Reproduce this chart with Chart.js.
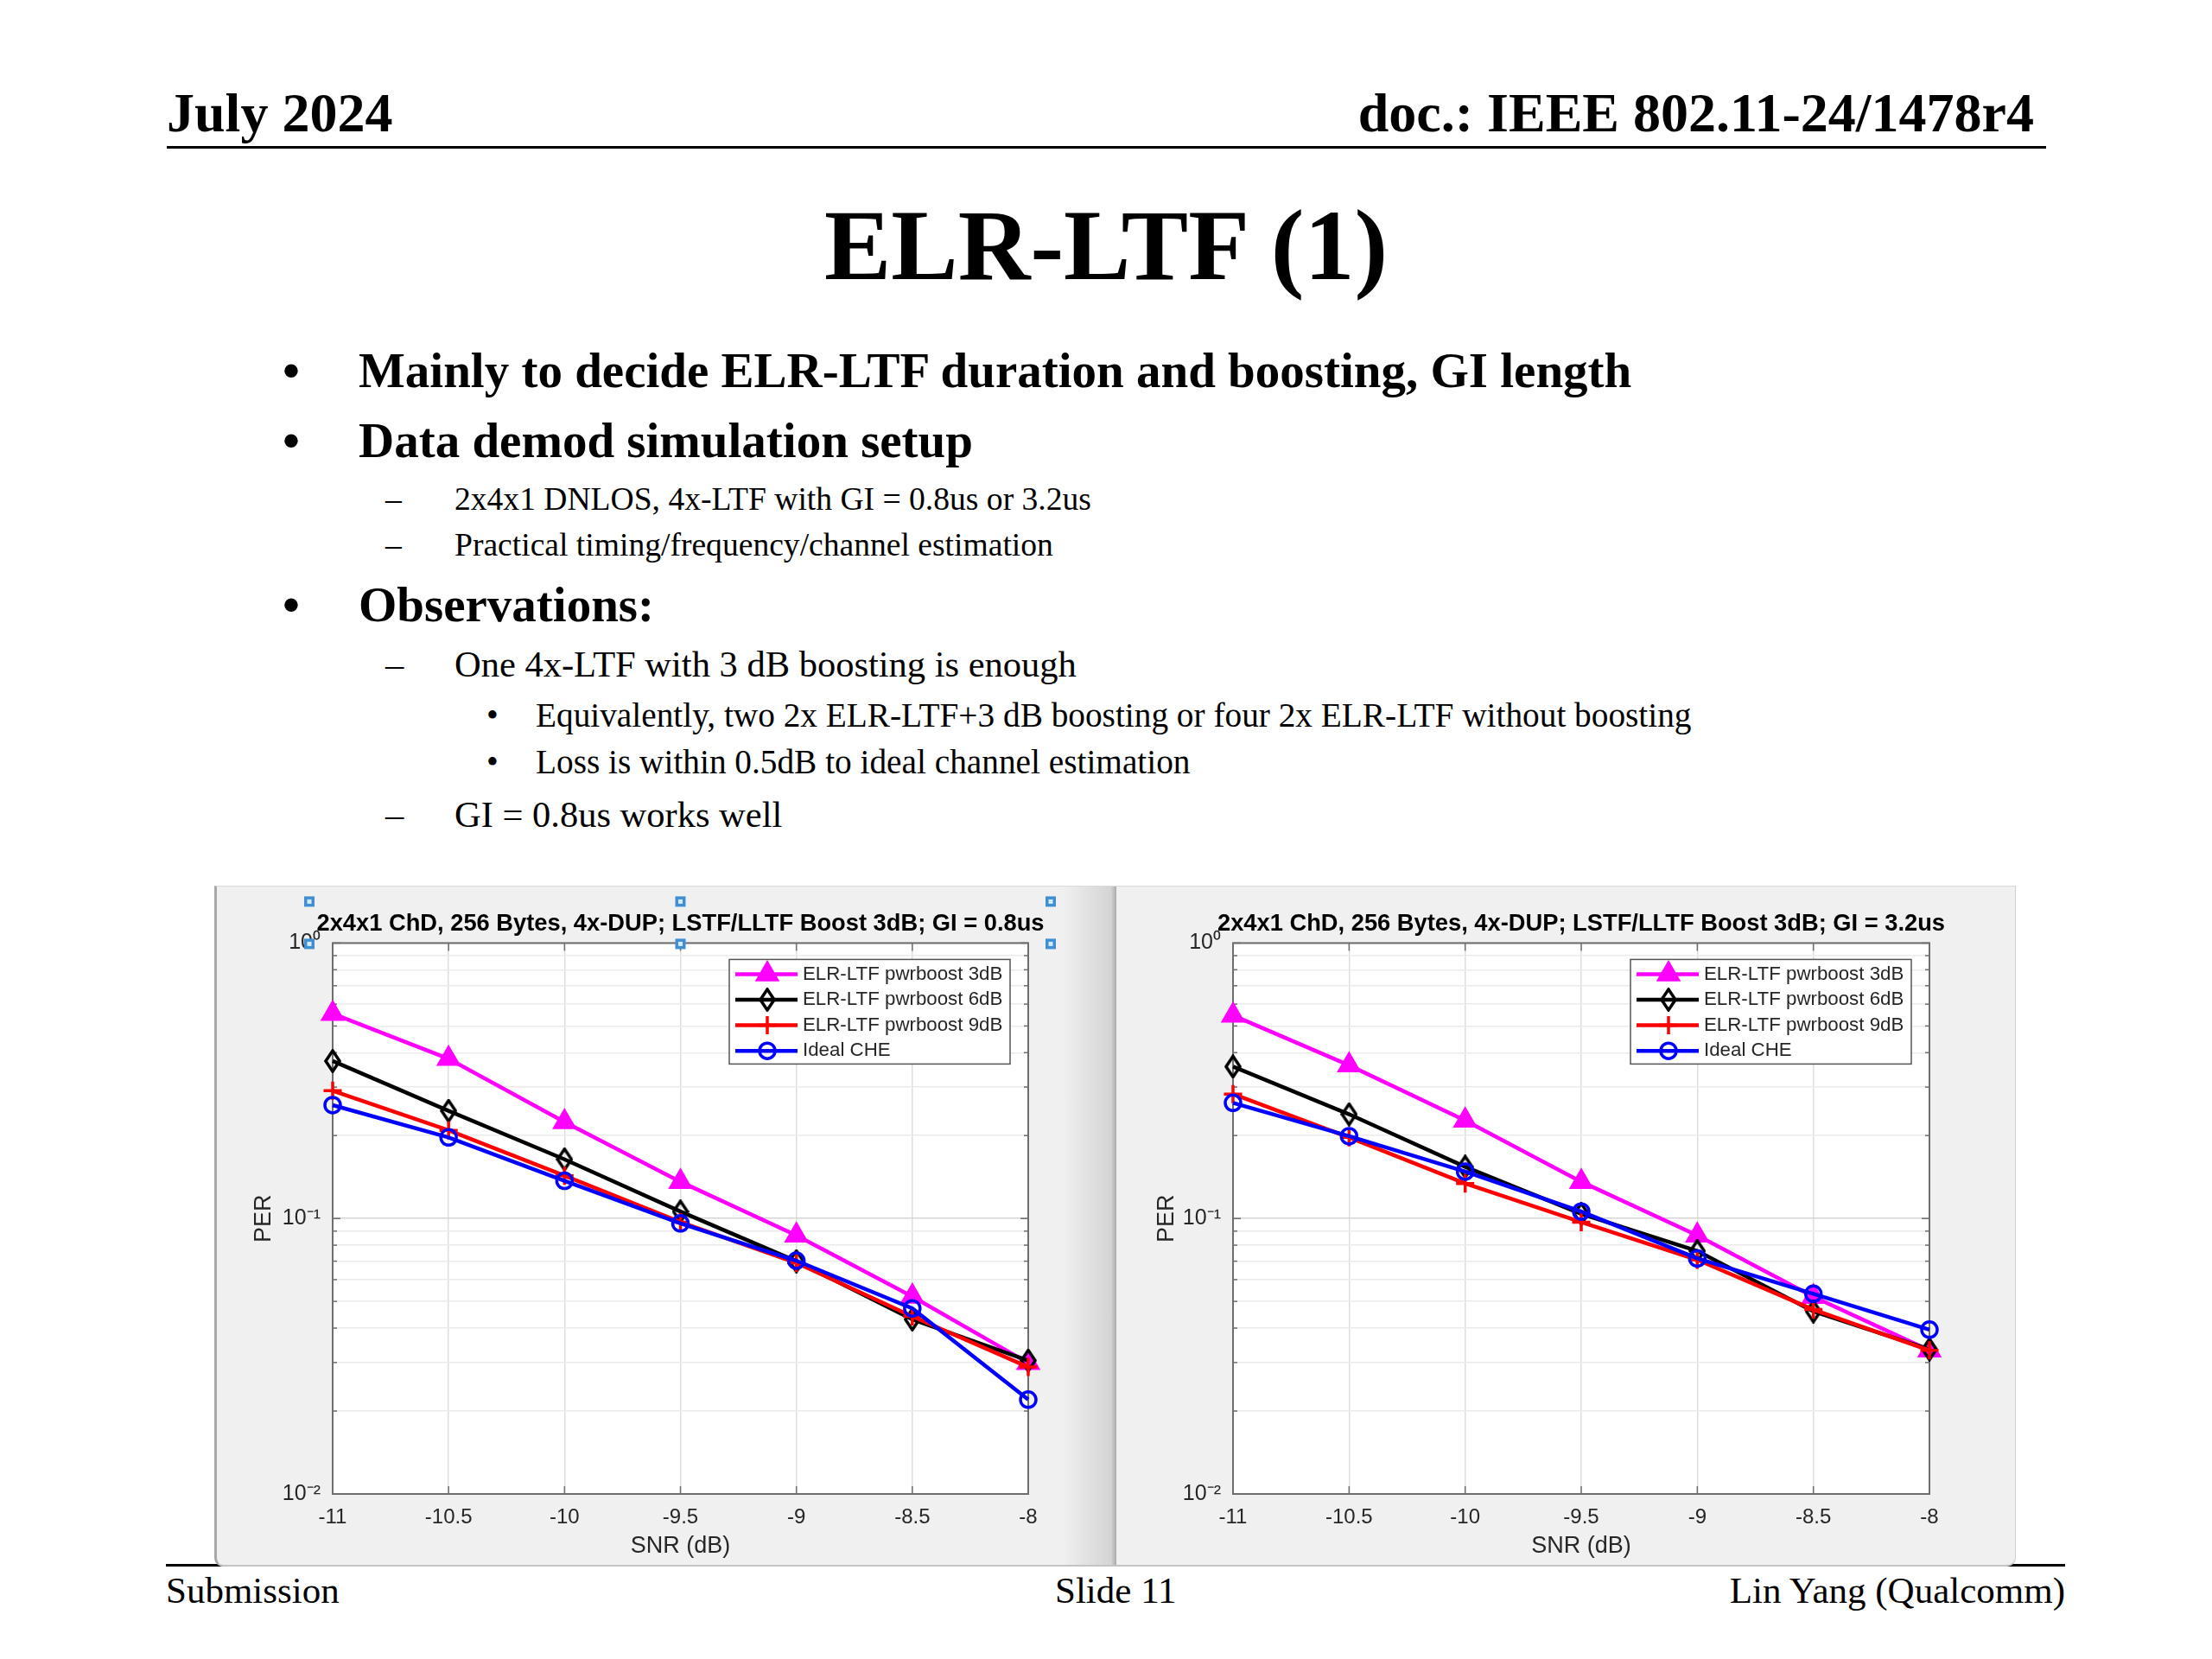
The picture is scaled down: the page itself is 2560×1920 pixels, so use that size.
<!DOCTYPE html>
<html>
<head>
<meta charset="utf-8">
<title>ELR-LTF (1)</title>
<script src="https://cdn.jsdelivr.net/npm/chart.js@4.4.1/dist/chart.umd.min.js"></script>
<style>
html, body { margin: 0; padding: 0; background: #fff; }
body { width: 2560px; height: 1920px; position: relative; overflow: hidden;
       font-family: "Liberation Serif", "Times New Roman", serif; color: #000; }
.t { position: absolute; white-space: nowrap; line-height: 1; }
.hdr { font-size: 64px; font-weight: bold; top: 99px; }
.l1 { font-size: 57px; font-weight: bold; }
.l2a { font-size: 37.6px; }
.l2b { font-size: 42.5px; }
.l3 { font-size: 39.3px; }
.ftr { font-size: 43px; top: 1819px; }
.rule { position: absolute; background: #000; height: 3px; }
.fig { position: absolute; box-sizing: border-box; top: 1025px; height: 788px; }
#figBgL { left: 248px; width: 1044px;
  background: linear-gradient(to right, #f0f0f0 0%, #f0f0f0 94%, #d4d4d4 99.4%, #a9a9a9 100%);
  border-left: 3px solid #a8a8a8; border-top: 1px solid #dadada; border-bottom: 2px solid #c4c4c4;
  border-bottom-left-radius: 10px; }
#figBgR { left: 1292px; width: 1041px; background: #f0f0f0;
  border-top: 1px solid #dadada; border-right: 1px solid #cfcfcf; border-bottom: 2px solid #c4c4c4;
  border-bottom-right-radius: 10px; }
canvas { position: absolute; }
</style>
</head>
<body>

<div class="t hdr" style="left:193px">July 2024</div>
<div class="t hdr" style="right:206px">doc.: IEEE 802.11-24/1478r4</div>
<div class="rule" style="left:193px; top:169px; width:2175px;"></div>

<div class="t" style="left:0; width:2560px; text-align:center; top:226px; font-size:116px; font-weight:bold;">ELR-LTF (1)</div>

<div class="t l1" style="left:327px; top:400px">•</div>
<div class="t l1" style="left:415px; top:400px">Mainly to decide ELR-LTF duration and boosting, GI length</div>
<div class="t l1" style="left:327px; top:481px">•</div>
<div class="t l1" style="left:415px; top:481px">Data demod simulation setup</div>
<div class="t l2a" style="left:446px; top:559px">–</div>
<div class="t l2a" style="left:526px; top:559px">2x4x1 DNLOS, 4x-LTF with GI = 0.8us or 3.2us</div>
<div class="t l2a" style="left:446px; top:612px">–</div>
<div class="t l2a" style="left:526px; top:612px">Practical timing/frequency/channel estimation</div>
<div class="t l1" style="left:327px; top:671px">•</div>
<div class="t l1" style="left:415px; top:671px">Observations:</div>
<div class="t l2b" style="left:446px; top:748px">–</div>
<div class="t l2b" style="left:526px; top:748px">One 4x-LTF with 3 dB boosting is enough</div>
<div class="t l3" style="left:563px; top:809px">•</div>
<div class="t l3" style="left:620px; top:809px">Equivalently, two 2x ELR-LTF+3 dB boosting or four 2x ELR-LTF without boosting</div>
<div class="t l3" style="left:563px; top:863px">•</div>
<div class="t l3" style="left:620px; top:863px">Loss is within 0.5dB to ideal channel estimation</div>
<div class="t l2b" style="left:446px; top:922px">–</div>
<div class="t l2b" style="left:526px; top:922px">GI = 0.8us works well</div>

<div class="rule" style="left:192px; top:1810px; width:2198px;"></div>
<div id="figBgL" class="fig"></div>
<div id="figBgR" class="fig"></div>
<canvas id="chartL" width="1042" height="787" style="left:248px; top:1025px; width:1042px; height:787px;"></canvas>
<canvas id="chartR" width="1039" height="787" style="left:1293px; top:1025px; width:1039px; height:787px;"></canvas>

<div class="t ftr" style="left:192px">Submission</div>
<div class="t ftr" style="left:1221px">Slide 11</div>
<div class="t ftr" style="right:170px">Lin Yang (Qualcomm)</div>

<script>
const snrPoints = [-11, -10.5, -10, -9.5, -9, -8.5, -8];
const snrTicks = [-11, -10.5, -10, -9.5, -9, -8.5, -8];
const snrTickLabels = ['-11', '-10.5', '-10', '-9.5', '-9', '-8.5', '-8'];
const perTicks = [0.01, 0.02, 0.03, 0.04, 0.05, 0.06, 0.07, 0.08, 0.09,
                  0.1, 0.2, 0.3, 0.4, 0.5, 0.6, 0.7, 0.8, 0.9, 1];
const perDecades = [0.01, 0.1, 1];
const perDecadeLabels = ['10⁻²', '10⁻¹', '10⁰'];
const seriesNames = ['ELR-LTF pwrboost 3dB', 'ELR-LTF pwrboost 6dB', 'ELR-LTF pwrboost 9dB', 'Ideal CHE'];

// GI = 0.8us
const gi08Boost3 = [0.554, 0.380, 0.224, 0.136, 0.0868, 0.0521, 0.0299];
const gi08Boost6 = [0.373, 0.246, 0.164, 0.106, 0.070, 0.043, 0.0305];
const gi08Boost9 = [0.291, 0.209, 0.143, 0.097, 0.069, 0.0441, 0.0289];
const gi08Ideal  = [0.258, 0.197, 0.137, 0.096, 0.0703, 0.0472, 0.0220];
// GI = 3.2us
const gi32Boost3 = [0.546, 0.360, 0.227, 0.136, 0.0868, 0.052, 0.0332];
const gi32Boost6 = [0.356, 0.239, 0.154, 0.104, 0.0762, 0.046, 0.0335];
const gi32Boost9 = [0.283, 0.197, 0.134, 0.097, 0.0708, 0.0467, 0.0332];
const gi32Ideal  = [0.263, 0.199, 0.148, 0.106, 0.0716, 0.0533, 0.0395];

const titleL = '2x4x1 ChD, 256 Bytes, 4x-DUP; LSTF/LLTF Boost 3dB; GI = 0.8us';
const titleR = '2x4x1 ChD, 256 Bytes, 4x-DUP; LSTF/LLTF Boost 3dB; GI = 3.2us';

// ---- styles ----
const sansFont = '"Liberation Sans", Arial, Helvetica, sans-serif';
const seriesColors = ['#ff00ff', '#000000', '#ff0000', '#0000ff'];

// tall MATLAB-like diamond marker
function makeDiamond() {
    let c = document.createElement('canvas');
    c.width = 20; c.height = 28;
    let g = c.getContext('2d');
    g.strokeStyle = '#000'; g.lineWidth = 3.5; g.lineJoin = 'miter';
    g.beginPath();
    g.moveTo(10, 2); g.lineTo(18, 14); g.lineTo(10, 26); g.lineTo(2, 14);
    g.closePath(); g.stroke();
    return c;
}
const diamond = makeDiamond();
const seriesMarkers = ['triangle', diamond, 'cross', 'circle'];
const seriesRadius = [13, 10, 10.5, 9];
const seriesFill = ['#ff00ff', 'rgba(0,0,0,0)', '#ff0000', 'rgba(0,0,0,0)'];

// white plot background
const plotBg = {
    id: 'plotBg',
    beforeDraw(chart) {
        const a = chart.chartArea, ctx = chart.ctx;
        ctx.save();
        ctx.fillStyle = '#ffffff';
        ctx.fillRect(a.left, a.top, a.right - a.left, a.bottom - a.top);
        ctx.restore();
    }
};

// axes title, centred over the plot box and allowed to run past it
const axesTitle = {
    id: 'axesTitle',
    afterDraw(chart, args, opts) {
        if (!opts || !opts.text) return;
        const {ctx, chartArea: a} = chart;
        ctx.save();
        ctx.font = 'bold 27.3px ' + sansFont;
        ctx.fillStyle = '#000000';
        ctx.textAlign = 'center';
        ctx.textBaseline = 'middle';
        ctx.fillText(opts.text, (a.left + a.right) / 2, a.top - 22);
        ctx.restore();
    }
};

// axes box + inward tick marks on all four sides
const axesBox = {
    id: 'axesBox',
    beforeDatasetsDraw(chart) {
        const {ctx, chartArea: a, scales} = chart;
        const line = (x1, y1, x2, y2) => { ctx.beginPath(); ctx.moveTo(x1, y1); ctx.lineTo(x2, y2); ctx.stroke(); };
        ctx.save();
        ctx.strokeStyle = '#6e6e6e';
        ctx.lineWidth = 1.5;
        scales.x.ticks.forEach(t => {
            const px = scales.x.getPixelForValue(t.value);
            line(px, a.bottom, px, a.bottom - 9);
            line(px, a.top, px, a.top + 9);
        });
        scales.y.ticks.forEach(t => {
            const py = scales.y.getPixelForValue(t.value);
            const len = perDecades.includes(t.value) ? 9 : 5;
            line(a.left, py, a.left + len, py);
            line(a.right, py, a.right - len, py);
        });
        ctx.lineWidth = 2;
        ctx.strokeRect(a.left, a.top, a.right - a.left, a.bottom - a.top);
        ctx.restore();
    }
};

// legend box in the upper right of the axes
const insideLegend = {
    id: 'insideLegend',
    afterDatasetsDraw(chart) {
        const {ctx, chartArea: a} = chart;
        const w = 325, h = 121;
        const x0 = a.right - 21 - w, y0 = a.top + 19;
        ctx.save();
        ctx.fillStyle = '#ffffff';
        ctx.fillRect(x0, y0, w, h);
        ctx.strokeStyle = '#555555';
        ctx.lineWidth = 1.5;
        ctx.strokeRect(x0, y0, w, h);
        ctx.font = '22.3px ' + sansFont;
        ctx.textBaseline = 'middle';
        chart.data.datasets.forEach((ds, i) => {
            const y = y0 + 17 + i * 29.6;
            ctx.strokeStyle = ds.borderColor;
            ctx.lineWidth = ds.borderWidth;
            ctx.beginPath(); ctx.moveTo(x0 + 7, y); ctx.lineTo(x0 + 79, y); ctx.stroke();
            ctx.fillStyle = ds.pointBackgroundColor;
            ctx.strokeStyle = ds.pointBorderColor;
            ctx.lineWidth = ds.pointBorderWidth;
            Chart.helpers.drawPoint(ctx, {
                pointStyle: ds.pointStyle, radius: ds.pointRadius,
                borderWidth: ds.pointBorderWidth, rotation: 0
            }, x0 + 44, y);
            ctx.fillStyle = '#262626';
            ctx.fillText(ds.label, x0 + 85, y);
        });
        ctx.restore();
    }
};

// blue selection handles around the title of the selected axes
const selHandles = {
    id: 'selHandles',
    afterDraw(chart, args, opts) {
        if (!opts || !opts.display) return;
        const {ctx, chartArea: a} = chart;
        const xs = [a.left - 27, (a.left + a.right) / 2, a.right + 26];
        const ys = [a.top - 48, a.top + 1];
        ctx.save();
        xs.forEach(x => ys.forEach(y => {
            ctx.fillStyle = '#3f8fd2';
            ctx.fillRect(x - 6, y - 6, 12, 12);
            ctx.fillStyle = '#d3eaf9';
            ctx.fillRect(x - 2.5, y - 2.5, 5, 5);
        }));
        ctx.restore();
    }
};

function buildDatasets(series) {
    return series.map((vals, i) => ({
        label: seriesNames[i],
        data: snrPoints.map((x, k) => ({x: x, y: vals[k]})),
        borderColor: seriesColors[i],
        backgroundColor: seriesColors[i],
        borderWidth: 4.5,
        pointStyle: seriesMarkers[i],
        pointRadius: seriesRadius[i],
        pointBorderWidth: 3.5,
        pointBorderColor: seriesColors[i],
        pointBackgroundColor: seriesFill[i],
        tension: 0,
        clip: false,
        order: 4 - i
    }));
}

function makeChart(id, series, titleText, leftW, rightPad, handles) {
    let ctx = document.getElementById(id).getContext('2d');
    return new Chart(ctx, {
        type: 'line',
        data: {datasets: buildDatasets(series)},
        options: {
            responsive: false,
            animation: false,
            events: [],
            layout: {padding: {left: 0, right: rightPad, top: 66.4, bottom: 0}},
            plugins: {
                legend: {display: false},
                tooltip: {enabled: false},
                title: {display: false},
                axesTitle: {text: titleText},
                selHandles: {display: handles}
            },
            scales: {
                x: {
                    type: 'linear', min: -11, max: -8,
                    afterBuildTicks: s => { s.ticks = snrTicks.map(v => ({value: v})); },
                    afterFit: s => { s.height = 83; },
                    ticks: {
                        autoSkip: false, maxRotation: 0, padding: 13, color: '#262626',
                        font: {family: sansFont, size: 24},
                        callback: (v, i) => snrTickLabels[i]
                    },
                    grid: {color: '#dddddd', lineWidth: 1.5, drawTicks: false},
                    border: {display: false},
                    title: {
                        display: true, text: 'SNR (dB)', color: '#262626',
                        font: {family: sansFont, size: 27}, padding: {top: 0, bottom: 6}
                    }
                },
                y: {
                    type: 'logarithmic', min: 0.01, max: 1,
                    afterBuildTicks: s => { s.ticks = perTicks.map(v => ({value: v, major: perDecades.includes(v)})); },
                    afterFit: s => { s.width = leftW; },
                    ticks: {
                        autoSkip: false, padding: 14, color: '#262626',
                        font: {family: sansFont, size: 25},
                        callback: v => {
                            const k = perDecades.indexOf(v);
                            return k >= 0 ? perDecadeLabels[k] : '';
                        }
                    },
                    grid: {
                        color: c => (c.tick && perDecades.includes(c.tick.value)) ? '#d6d6d6' : '#ebebeb',
                        lineWidth: 1.5, drawTicks: false
                    },
                    border: {display: false},
                    title: {
                        display: true, text: 'PER', color: '#262626',
                        font: {family: sansFont, size: 27}, padding: {top: 41, bottom: 0}
                    }
                }
            }
        },
        plugins: [plotBg, axesBox, insideLegend, axesTitle, selHandles]
    });
}

makeChart('chartL', [gi08Boost3, gi08Boost6, gi08Boost9, gi08Ideal], titleL, 137, 100, true);
makeChart('chartR', [gi32Boost3, gi32Boost6, gi32Boost9, gi32Ideal], titleR, 134, 99, false);
</script>
</body>
</html>
